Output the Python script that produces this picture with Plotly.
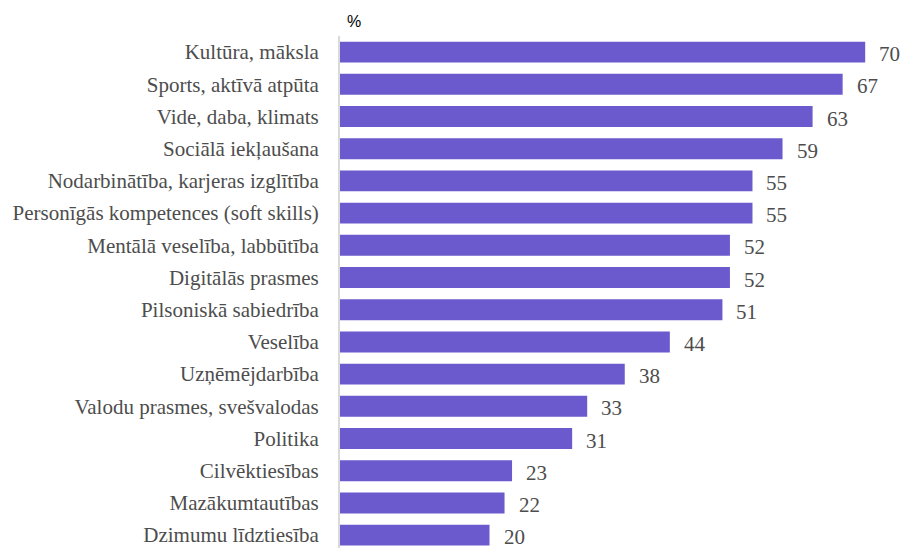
import plotly.graph_objects as go

categories = [
    "Kultūra, māksla",
    "Sports, aktīvā atpūta",
    "Vide, daba, klimats",
    "Sociālā iekļaušana",
    "Nodarbinātība, karjeras izglītība",
    "Personīgās kompetences (soft skills)",
    "Mentālā veselība, labbūtība",
    "Digitālās prasmes",
    "Pilsoniskā sabiedrība",
    "Veselība",
    "Uzņēmējdarbība",
    "Valodu prasmes, svešvalodas",
    "Politika",
    "Cilvēktiesības",
    "Mazākumtautības",
    "Dzimumu līdztiesība",
]
values = [70, 67, 63, 59, 55, 55, 52, 52, 51, 44, 38, 33, 31, 23, 22, 20]

SERIF = "Liberation Serif, Times New Roman, Times, serif"

fig = go.Figure()
fig.add_trace(go.Bar(
    y=categories, x=values, orientation="h",
    marker=dict(color="#6A5ACD", line=dict(width=0)),
    width=0.65,
    hoverinfo="skip",
))
for c, v in zip(categories, values):
    fig.add_annotation(x=v, y=c, text=str(v), showarrow=False,
                       xanchor="left", yanchor="middle", xshift=12, yshift=-2,
                       font=dict(family=SERIF, size=21, color="#4d4d4d"))

fig.add_annotation(text="%", xref="paper", yref="paper", x=0, y=1,
                   xanchor="left", yanchor="bottom", xshift=5, yshift=4,
                   showarrow=False,
                   font=dict(family="Liberation Sans, Arial, sans-serif", size=16, color="#000000"))

fig.update_layout(
    width=905, height=548,
    margin=dict(l=340, r=0, t=36, b=0),
    plot_bgcolor="white", paper_bgcolor="white",
    showlegend=False,
)
fig.update_xaxes(range=[0.1, 75.3], showgrid=False, zeroline=False,
                 showticklabels=False, showline=False)
fig.update_yaxes(autorange=False, range=[15.4, -0.5], categoryorder="array",
                 categoryarray=categories, showgrid=False, zeroline=False,
                 showline=True, linecolor="#d9d9d9", linewidth=2,
                 ticks="", ticklabelstandoff=15,
                 tickfont=dict(family=SERIF, size=21, color="#4d4d4d"))

fig.write_html("out.html", config={"displayModeBar": False},
               post_script="document.body.style.margin='0';document.body.style.overflow='hidden';")
